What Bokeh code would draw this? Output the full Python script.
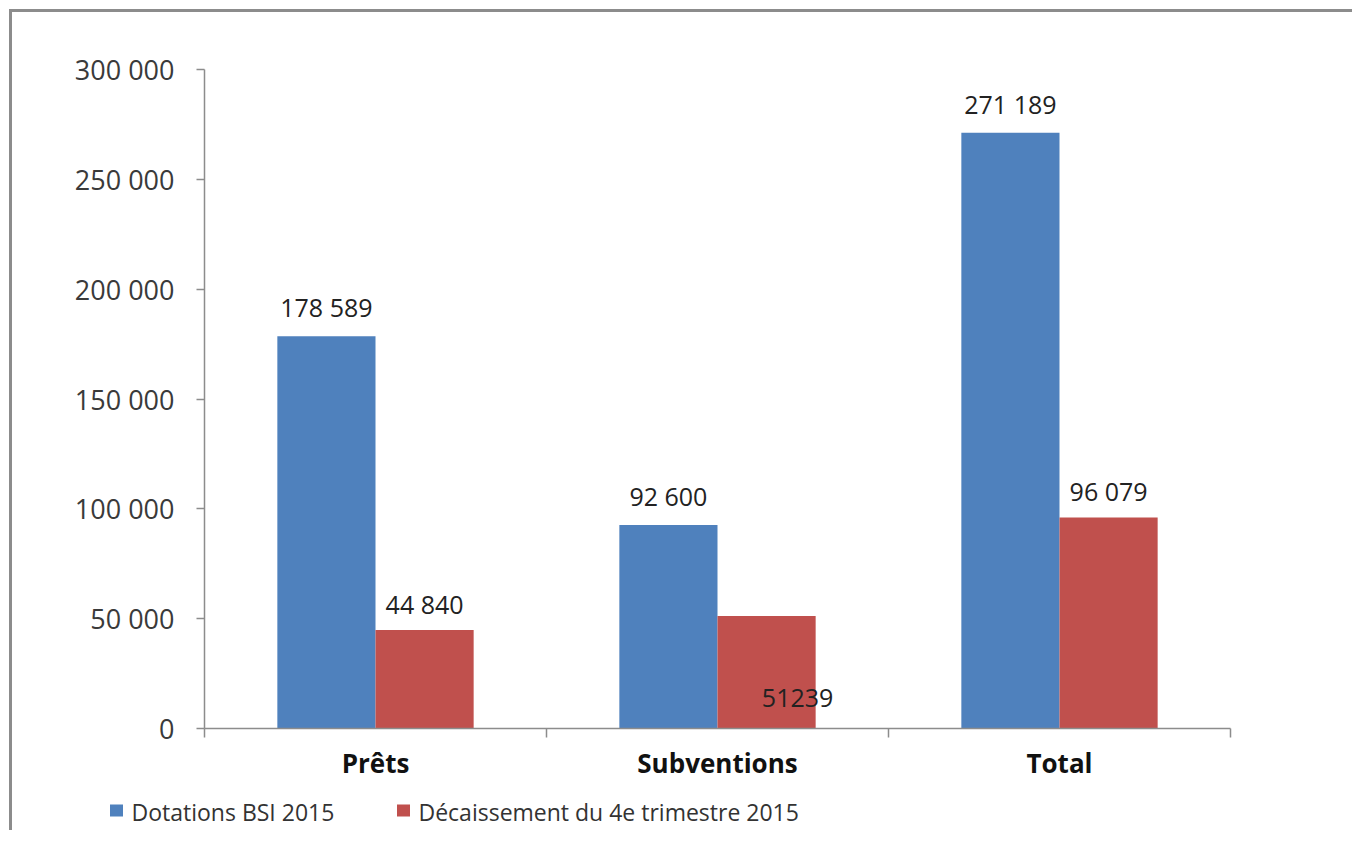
from bokeh.plotting import figure
from bokeh.layouts import column
from bokeh.models import (ColumnDataSource, LabelSet, Label, FixedTicker, Range1d)
from bokeh.core.properties import value
from bokeh.embed import file_html
from bokeh.resources import INLINE

# ---- data ----
categories = ["Prêts", "Subventions", "Total"]
dotations = [178589, 92600, 271189]
decaissement = [44840, 51239, 96079]
dotations_labels = ["178 589", "92 600", "271 189"]
decaissement_labels = ["44 840", "51239", "96 079"]
series_names = ["Dotations BSI 2015", "Décaissement du 4e trimestre 2015"]
y_ticks = [0, 50000, 100000, 150000, 200000, 250000, 300000]
y_tick_labels = ["0", "50 000", "100 000", "150 000", "200 000", "250 000", "300 000"]

BLUE = "#4F81BD"
RED = "#C0504D"
FONT = "Open Sans"
BAR_W = 0.287
W = 1340

n = len(categories)
centers = [i + 0.5 for i in range(n)]
dodge = BAR_W / 2

src_dot = ColumnDataSource(dict(x=[c - dodge for c in centers], top=dotations, lab=dotations_labels))
src_dec = ColumnDataSource(dict(x=[c + dodge for c in centers], top=decaissement, lab=decaissement_labels))

p = figure(width=W, height=778, output_backend="svg", toolbar_location=None,
           x_range=Range1d(0, n), y_range=Range1d(0, 300000),
           min_border_left=192, min_border_top=57, min_border_right=122, min_border_bottom=62)
p.outline_line_color = None
p.xgrid.visible = False
p.ygrid.visible = False
p.background_fill_color = "white"
p.border_fill_color = "white"

p.vbar(x="x", top="top", width=BAR_W, bottom=0, source=src_dot, fill_color=BLUE, line_color=None)
p.vbar(x="x", top="top", width=BAR_W, bottom=0, source=src_dec, fill_color=RED, line_color=None)

# y axis
ya = p.yaxis[0]
ya.ticker = FixedTicker(ticks=y_ticks)
ya.major_label_overrides = {t: l for t, l in zip(y_ticks, y_tick_labels)}
ya.axis_line_color = "#8c8c8c"
ya.major_tick_line_color = "#8c8c8c"
ya.major_tick_in = 0
ya.major_tick_out = 8
ya.minor_tick_line_color = None
ya.major_label_standoff = 22
ya.major_label_text_font = FONT
ya.major_label_text_font_size = "27px"
ya.major_label_text_color = "#3a3a3a"
ya.axis_line_width = 1.5
ya.major_tick_line_width = 1.5

# x axis
xa = p.xaxis[0]
xa.ticker = FixedTicker(ticks=centers, minor_ticks=list(range(n + 1)))
xa.major_label_overrides = {c: cat for c, cat in zip(centers, categories)}
xa.axis_line_color = "#8c8c8c"
xa.axis_line_width = 1.5
xa.major_tick_line_color = None
xa.minor_tick_line_color = "#8c8c8c"
xa.minor_tick_line_width = 1.5
xa.minor_tick_in = 0
xa.minor_tick_out = 9
xa.major_label_standoff = 7
xa.major_label_text_font = FONT
xa.major_label_text_font_size = "26px"
xa.major_label_text_font_style = "bold"
xa.major_label_text_color = "#111111"

# data labels
common = dict(text_font_size="25px", text_color="#222222", text_align="center", text_baseline="middle")
p.add_layout(LabelSet(x="x", y="top", text="lab", source=src_dot, y_offset=29,
                      text_font=value(FONT), **common))
src_dec_std = ColumnDataSource(dict(x=[src_dec.data["x"][i] for i in (0, 2)],
                                    top=[decaissement[i] for i in (0, 2)],
                                    lab=[decaissement_labels[i] for i in (0, 2)]))
p.add_layout(LabelSet(x="x", y="top", text="lab", source=src_dec_std, y_offset=26,
                      text_font=value(FONT), **common))
p.add_layout(Label(x=src_dec.data["x"][1], y=decaissement[1], text=decaissement_labels[1],
                   x_offset=31, y_offset=-82, text_font=FONT, **common))

# legend strip (separate small figure in pixel coordinates)
LH = 40
leg = figure(width=W, height=LH, output_backend="svg", toolbar_location=None,
             x_range=Range1d(0, W), y_range=Range1d(0, LH),
             x_axis_type=None, y_axis_type=None, min_border=0)
leg.outline_line_color = None
leg.xgrid.visible = False
leg.ygrid.visible = False
for fig in (p, leg):
    if hasattr(fig, "frame_align"):
        fig.frame_align = False
sq_x = [104, 391]
leg.rect(x=sq_x, y=[20, 20], width=13, height=12, fill_color=[BLUE, RED], line_color=None)
leg.text(x=[sx + 15 for sx in sq_x], y=[19, 19], text=series_names,
         text_font=value(FONT), text_font_size="23px", text_color="#333333",
         text_align="left", text_baseline="middle")

layout = column(p, leg, spacing=0)
layout.styles = {"border-left": "3px solid #8c8c8c", "border-top": "3px solid #8c8c8c",
                 "margin-left": "9px", "margin-top": "9px"}

open("out.html", "w").write(file_html(layout, INLINE))
